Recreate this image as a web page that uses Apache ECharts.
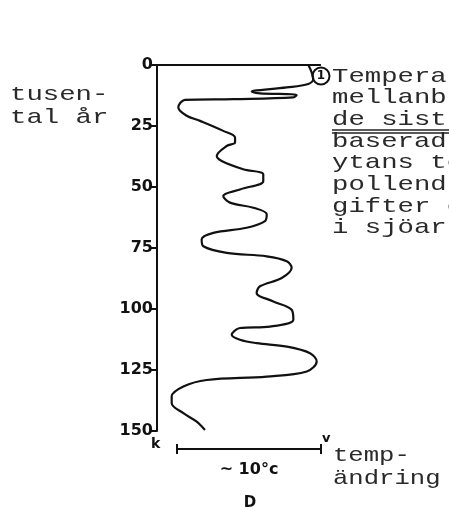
<!DOCTYPE html>
<html>
<head>
    <meta charset="utf-8">
    <script src="https://cdn.jsdelivr.net/npm/echarts@6/dist/echarts.min.js"></script>
    <style>
        html, body { margin: 0; padding: 0; background: #fff; }
    </style>
</head>
<body>
    <div id="main" style="width: 449px;height:511px;"></div>
    <script type="text/javascript">
        // kurvan: relativ temperatur (grader C från vänsterkanten) mot tusental år
        var tempDev = [10.51, 10.74, 10.85, 10.51, 9.01, 6.69, 6.58, 7.15, 9.70, 9.47,
            5.30, 1.94, 1.48, 2.06, 2.99, 4.60, 5.42, 5.42, 4.84, 4.15,
            4.49, 5.99, 7.38, 7.38, 5.76, 4.60, 5.07, 6.69, 7.62, 7.50,
            6.23, 3.91, 3.10, 3.22, 4.84, 7.62, 9.01, 9.35, 8.66, 7.15,
            6.92, 8.08, 9.35, 9.47, 7.85, 5.76, 5.19, 5.76, 6.92, 9.01,
            10.63, 11.09, 10.40, 7.62, 3.45, 1.83, 1.02, 1.02, 1.83, 2.76, 3.33];
        var ageKyr = [0, 3.0, 5.75, 7.8, 9.2, 10.6, 11.0, 11.6, 12.3, 13.3,
            14.0, 14.3, 17.4, 20.8, 22.9, 27.0, 29.7, 31.8, 33.2, 37.3,
            39.3, 42.7, 44.8, 47.6, 51.0, 53.7, 56.4, 58.5, 61.2, 64.0,
            66.7, 68.8, 71.5, 74.3, 77.0, 78.4, 80.4, 83.1, 87.3, 90.7,
            93.4, 96.9, 100.3, 104.4, 107.2, 107.8, 110.6, 112.6, 114.0, 115.4,
            118.1, 121.5, 125.6, 127.7, 129.1, 131.8, 135.9, 138.6, 142.7, 146.2, 149.6];
        var ageTicks = [0, 25, 50, 75, 100, 125, 150];
        var tempMax = 11.32;
        var scaleBar = [1.39, 11.39];   // ~10 grader
        var noteLines = ['Tempera', 'mellanb', 'de sist', 'baserad', 'ytans te', 'pollend', 'gifter o', 'i sjöar'];
        var unitLines = ['temp-', 'ändring'];
        var yearLines = ['tusen-', 'tal år'];

        var myChart = echarts.init(document.getElementById('main'));
        var curve = tempDev.map(function (t, i) { return [t, ageKyr[i]]; });

        // skrivmaskinstext: smal och bred
        var typeFont = '21px "Liberation Mono", "DejaVu Sans Mono", monospace';
        function typeText(s, x, y, sx) {
            return {type: 'text', x: x, y: y, scaleX: sx || 1.3,
                style: {text: s, font: typeFont, fill: '#2a2a2a', verticalAlign: 'middle'}};
        }

        var option = {
            animation: false,
            backgroundColor: '#fff',
            grid: {left: 157, top: 65, width: 163, height: 366},
            xAxis: [{
                type: 'value', min: 0, max: tempMax, position: 'bottom',
                axisLine: {lineStyle: {color: '#111', width: 2}},
                axisTick: {show: false}, axisLabel: {show: false}, splitLine: {show: false}
            }, {
                type: 'value', min: 0, max: tempMax, position: 'top',
                axisLine: {lineStyle: {color: '#111', width: 2}},
                axisTick: {show: false}, axisLabel: {show: false}, splitLine: {show: false}
            }],
            yAxis: {
                type: 'value', inverse: true, min: 0, max: 150, interval: 25,
                axisLine: {lineStyle: {color: '#111', width: 2}},
                axisTick: {length: 6, lineStyle: {color: '#111', width: 2}},
                axisLabel: {
                    margin: 4, color: '#111', fontSize: 16, fontWeight: 'bold',
                    fontFamily: '"DejaVu Sans", sans-serif',
                    formatter: function (v) { return ageTicks.indexOf(v) >= 0 ? String(v) : ''; }
                },
                splitLine: {show: false}
            },
            series: [{
                type: 'line',
                data: curve,
                smooth: 0.35,
                showSymbol: false,
                lineStyle: {color: '#111', width: 2.2}
            }]
        };
        myChart.setOption(option);

        // anteckningar runt diagrammet
        var px = function (t) { return myChart.convertToPixel({xAxisIndex: 0}, t); };
        var x0 = px(scaleBar[0]), x1 = px(scaleBar[1]);
        var barY = 449;
        var g = [];
        yearLines.forEach(function (s, i) { g.push(typeText(s, 10, 94 + i * 23)); });
        noteLines.forEach(function (s, i) { g.push(typeText(s, 332, 76 + i * 21.7)); });
        g.push({type: 'line', shape: {x1: 332, y1: 130, x2: 449, y2: 130}, style: {stroke: '#222', lineWidth: 1.3}});
        g.push({type: 'line', shape: {x1: 332, y1: 133, x2: 449, y2: 133}, style: {stroke: '#222', lineWidth: 1.3}});
        unitLines.forEach(function (s, i) { g.push(typeText(s, 333, 455 + i * 23, 1.22)); });
        g.push({type: 'circle', shape: {cx: 321, cy: 76, r: 8.5}, style: {fill: '#fff', stroke: '#111', lineWidth: 2}});
        g.push({type: 'text', x: 321, y: 76, style: {text: '1', font: 'bold 12px "DejaVu Sans"', fill: '#111', align: 'center', verticalAlign: 'middle'}});
        g.push({type: 'line', shape: {x1: x0, y1: barY, x2: x1, y2: barY}, style: {stroke: '#111', lineWidth: 2}});
        g.push({type: 'line', shape: {x1: x0, y1: barY - 5, x2: x0, y2: barY + 5}, style: {stroke: '#111', lineWidth: 2}});
        g.push({type: 'line', shape: {x1: x1, y1: barY - 5, x2: x1, y2: barY + 5}, style: {stroke: '#111', lineWidth: 2}});
        g.push({type: 'text', x: (x0 + x1) / 2, y: 470, style: {text: '~ 10°c', font: 'bold 16px "DejaVu Sans"', fill: '#111', align: 'center', verticalAlign: 'middle'}});
        g.push({type: 'text', x: 250, y: 503, style: {text: 'D', font: 'bold 15px "DejaVu Sans"', fill: '#111', align: 'center', verticalAlign: 'middle'}});
        g.push({type: 'text', x: 151, y: 437, style: {text: 'k', font: 'bold 14px "DejaVu Sans"', fill: '#111'}});
        g.push({type: 'text', x: 322, y: 432, style: {text: 'v', font: 'bold 13px "DejaVu Sans"', fill: '#111'}});
        myChart.setOption({graphic: g});
    </script>
</body>
</html>
